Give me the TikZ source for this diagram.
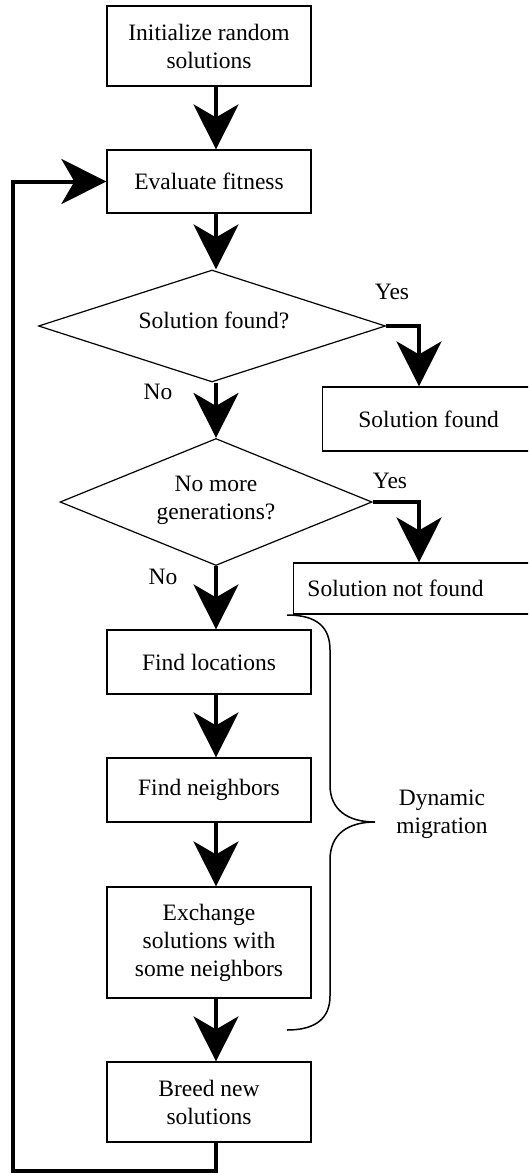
\documentclass[tikz,border=0pt]{standalone}
\usepackage{fontspec}
\setmainfont{Liberation Serif}
\usetikzlibrary{arrows.meta,shapes.geometric,calc}
\begin{document}
\begin{tikzpicture}[x=1pt,y=-1pt,
  txt/.style={font=\fontsize{23.5pt}{28pt}\selectfont},
  box/.style={txt,draw,line width=1.2pt,minimum width=204pt,inner sep=0pt,align=center},
  dia/.style={txt,draw,diamond,line width=1.2pt,inner sep=0pt,shape aspect=3,align=center},
  arr/.style={line width=4pt,-{Stealth[length=45pt,width=45pt,inset=13pt]}},
  yesline/.style={line width=4pt,-{Stealth[length=45pt,width=45pt,inset=13pt]}},
  brace/.style={line width=1.5pt}
]
\useasboundingbox (0,0) rectangle (528,1173);
\clip (0,0) rectangle (528,1173);
% column coordinates
\coordinate (col) at (216,0);
\coordinate (ycol) at (419,0);
\coordinate (lp) at (13,1171);
% nodes
\node[box,minimum height=80pt] (init) at (209,46) {Initialize random\\solutions};
\node[box,minimum height=63pt] (eval) at (209,181.5) {Evaluate fitness};
\node[dia,minimum width=347pt,minimum height=112pt] (d1) at (212,326) {};
\node[txt] (d1t) at (214,320) {Solution found?};
\node[dia,minimum width=312pt,minimum height=127pt] (d2) at (216,502) {};
\node[txt,align=center] (d2t) at (216,500) {No more\\generations?};
\node[box,minimum width=240pt,minimum height=64pt,anchor=west] (sf) at (322,419) {\hspace*{-14pt}Solution found\hspace*{14pt}};
\node[box,minimum width=260pt,minimum height=51pt,anchor=west] (snf) at (293,588.5) {\hspace*{-28pt}Solution not found\hspace*{28pt}};
\node[box,minimum height=64pt] (loc) at (209,662) {Find locations};
\node[box,minimum height=64pt] (nb) at (209,790) {Find neighbors};
\node[box,minimum height=111pt] (ex) at (209,942.5) {Exchange\\solutions with\\some neighbors};
\node[box,minimum height=80pt] (br) at (209,1102) {Breed new\\solutions};
% labels
\node[txt] (y1) at (392,292) {Yes};
\node[txt] (y2) at (390,481) {Yes};
\node[txt] (n1) at (158,392) {No};
\node[txt] (n2) at (163,577) {No};
\node[txt,align=center] (dm) at (442,814) {Dynamic\\migration};
% connectors
\draw[arr] (init.south -| col) -- (eval.north -| col);
\draw[arr] (eval.south -| col) -- (d1.north -| col);
\draw[arr] (d1.south -| col) -- (d2.north -| col);
\draw[arr] (d2.south -| col) -- (loc.north -| col);
\draw[arr] (loc.south -| col) -- (nb.north -| col);
\draw[arr] (nb.south -| col) -- (ex.north -| col);
\draw[arr] (ex.south -| col) -- (br.north -| col);
\draw[yesline] (d1.east) -| (sf.north -| ycol);
\draw[yesline] (d2.east) -| (snf.north -| ycol);
\draw[arr] (br.south -| col) |- (lp) |- (eval.west);
% brace
\draw[brace] (287,615) .. controls (318,615) and (330,628) .. (330,650)
  -- (330,785) .. controls (330,810) and (348,822) .. (375,822)
  .. controls (348,822) and (330,834) .. (330,860)
  -- (330,996) .. controls (330,1018) and (316,1030) .. (287,1030);
\end{tikzpicture}
\end{document}
